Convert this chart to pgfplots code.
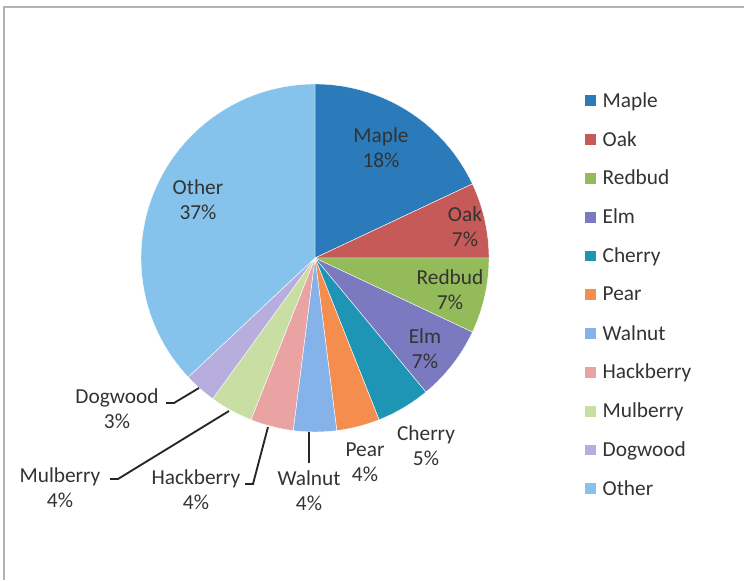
\documentclass[border=0pt]{standalone}
\usepackage{pgfplots}
\usepackage{pgfplotstable}
\pgfplotsset{compat=1.18}
\usepackage{fontspec}
\setmainfont{Carlito}

% slice colours, in table order
\definecolor{pie0}{HTML}{2B7BBA}
\definecolor{pie1}{HTML}{C55A58}
\definecolor{pie2}{HTML}{94BB5A}
\definecolor{pie3}{HTML}{7B79BF}
\definecolor{pie4}{HTML}{1E95B5}
\definecolor{pie5}{HTML}{F58D4E}
\definecolor{pie6}{HTML}{85B2E8}
\definecolor{pie7}{HTML}{E9A3A3}
\definecolor{pie8}{HTML}{C8DEA3}
\definecolor{pie9}{HTML}{B7AEDD}
\definecolor{pie10}{HTML}{86C3EC}
\colorlet{labeltext}{black!80}

\pgfplotstableread{
name      share
Maple     18
Oak       7
Redbud    7
Elm       7
Cherry    5
Pear      4
Walnut    4
Hackberry 4
Mulberry  4
Dogwood   3
Other     37
}\pietable

\def\R{130.5pt} % pie radius (174 px)

\begin{document}
\begin{tikzpicture}[font=\fontsize{16}{18.75}\selectfont]
% start/end angle of each slice, clockwise from 12 o'clock
\gdef\cumangle{90}
\foreach \i in {0,...,10}{
  \pgfplotstablegetelem{\i}{share}\of\pietable
  \pgfmathsetmacro{\endangle}{\cumangle-3.6*\pgfplotsretval}
  \expandafter\xdef\csname pieA\i\endcsname{\cumangle}
  \expandafter\xdef\csname pieB\i\endcsname{\endangle}
  \xdef\cumangle{\endangle}
}
\begin{axis}[
    x=0.75pt, y=0.75pt,
    xmin=0, xmax=746, ymin=0, ymax=580,
    hide axis, clip=false,
    legend image code/.code={\fill[#1] (0pt,-4.1pt) rectangle (8.25pt,4.1pt);},
    legend style={
        at={(axis cs:585,498.6)}, anchor=north west,
        draw=none, fill=none, inner sep=0pt, outer sep=0pt,
        row sep=0pt, column sep=5pt,
        font=\fontsize{16}{18.75}\selectfont,
        nodes={inner sep=0pt, minimum height=29.1pt, text=labeltext},
    },
    legend cell align=left,
]
\path (axis cs:0,0) rectangle (axis cs:746,580);
\draw[black!30, line width=0.8pt] (axis cs:4,0) -- (axis cs:4,573) -- (axis cs:744,573);

\pgfplotsinvokeforeach{0,...,10}{
  \fill[pie#1, draw=white, line width=0.3pt] (axis cs:315,322)
    -- ++({\csname pieA#1\endcsname}:\R)
    arc[start angle=\csname pieA#1\endcsname, end angle=\csname pieB#1\endcsname, radius=\R]
    -- cycle;
  \addlegendimage{fill=pie#1, draw=none}
  \pgfplotstablegetelem{#1}{name}\of\pietable
  \addlegendentryexpanded{\pgfplotsretval}
}

% data labels
\begin{scope}[every node/.style={align=center, text=labeltext, inner sep=0pt}]
\node at (axis cs:381,432.5) {Maple\\18\%};
\node at (axis cs:465,353) {Oak\\7\%};
\node at (axis cs:450,290) {Redbud\\7\%};
\node at (axis cs:425,231.5) {Elm\\7\%};
\node at (axis cs:426,134) {Cherry\\5\%};
\node at (axis cs:365,117.5) {Pear\\4\%};
\node at (axis cs:309,89.5) {Walnut\\4\%};
\node at (axis cs:196,90) {Hackberry\\4\%};
\node at (axis cs:60,92) {Mulberry\\4\%};
\node at (axis cs:117,171.5) {Dogwood\\3\%};
\node at (axis cs:198,380) {Other\\37\%};
\end{scope}

% leader lines
\begin{scope}[black!85, line width=1.4pt]
\draw (axis cs:166,177) -- (axis cs:174,177) -- (axis cs:199,192);
\draw (axis cs:110,101) -- (axis cs:118,101) -- (axis cs:229,169);
\draw (axis cs:245,96) -- (axis cs:253,96) -- (axis cs:268,153);
\draw (axis cs:309,117) -- (axis cs:309,148);
\end{scope}
\end{axis}
\end{tikzpicture}
\end{document}
